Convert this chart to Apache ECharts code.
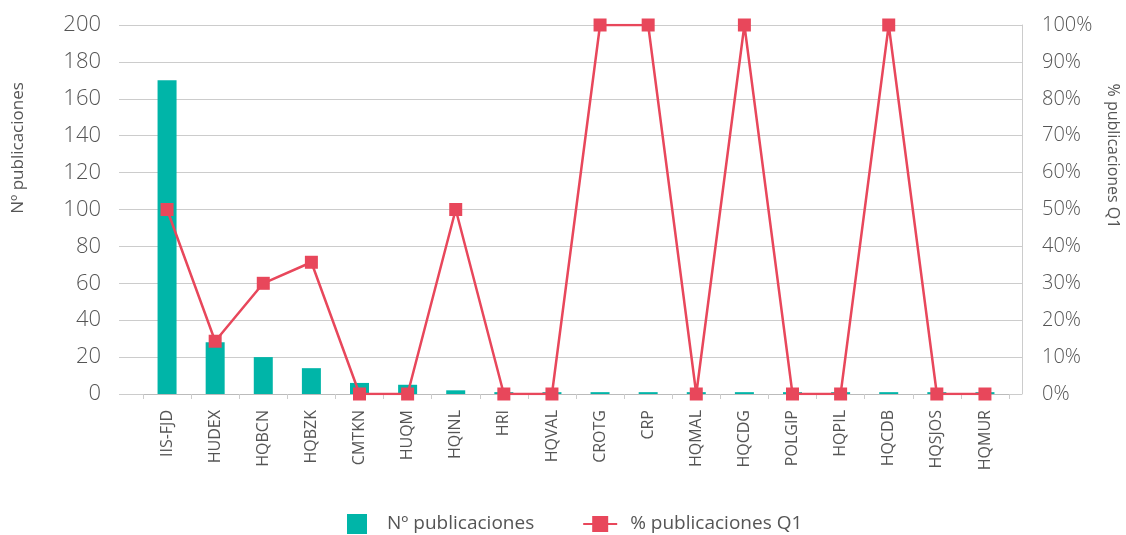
<!DOCTYPE html>
<html><head><meta charset="utf-8">
<script src="https://cdn.jsdelivr.net/npm/echarts@6/dist/echarts.min.js"></script>
<style>html,body{margin:0;padding:0;background:#fff}#c{width:1126px;height:535px}</style>
</head><body><div id="c"></div>
<script>
const categories = ['IIS-FJD','HUDEX','HQBCN','HQBZK','CMTKN','HUQM','HQINL','HRI','HQVAL','CROTG','CRP','HQMAL','HQCDG','POLGIP','HQPIL','HQCDB','HQSJOS','HQMUR'];
const publicaciones = [170, 28, 20, 14, 6, 5, 2, 1, 1, 1, 1, 1, 1, 1, 1, 1, 1, 1];
const pctQ1 = [50, 14.3, 30, 35.7, 0, 0, 50, 0, 0, 100, 100, 0, 100, 0, 0, 100, 0, 0];
const leftTicks = {min: 0, max: 200, interval: 20};
const rightTicks = {min: 0, max: 100, interval: 10};

const FONT = '"Open Sans", sans-serif';
const TXT = '#555';
const chart = echarts.init(document.getElementById('c'));
chart.setOption({
  animation: false,
  textStyle: {fontFamily: FONT},
  grid: {left: 143, right: 117, top: 25, bottom: 141},
  legend: {
    left: 342, top: 509, itemWidth: 34, itemHeight: 20, itemGap: 48,
    textStyle: {fontFamily: FONT, fontSize: 19, color: TXT, padding: [0, 0, 0, 8]},
    data: [
      {name: 'Nº publicaciones', icon: 'path://M0,0H1V1H0Z'},
      {name: '% publicaciones Q1'}
    ]
  },
  xAxis: {
    type: 'category', data: categories,
    axisLine: {lineStyle: {color: '#bbb'}},
    axisTick: {show: true, length: 5, lineStyle: {color: '#ccc'}},
    axisLabel: {rotate: 90, margin: 16, fontSize: 16, color: TXT, fontFamily: FONT, interval: 0}
  },
  yAxis: [
    {type: 'value', min: leftTicks.min, max: leftTicks.max, interval: leftTicks.interval,
     axisLine: {show: false},
     axisTick: {show: true, length: 24, lineStyle: {color: '#ccc'}},
     splitLine: {lineStyle: {color: '#ccc'}},
     axisLabel: {fontSize: 22, color: TXT, margin: 42, fontFamily: FONT, fontWeight: 300}},
    {type: 'value', min: rightTicks.min, max: rightTicks.max, interval: rightTicks.interval,
     position: 'right', offset: 13,
     axisLine: {show: true, lineStyle: {color: '#ccc'}},
     axisTick: {show: true, inside: true, length: 13, lineStyle: {color: '#ccc'}},
     splitLine: {show: false},
     axisLabel: {fontSize: 20, color: TXT, margin: 20, fontFamily: FONT, fontWeight: 300, formatter: '{value}%'}}
  ],
  graphic: [
    {type: 'text', x: 18, y: 148, rotation: Math.PI / 2,
     style: {text: 'Nº publicaciones', fill: TXT, font: '17px ' + FONT, align: 'center', verticalAlign: 'middle'}},
    {type: 'text', x: 1113, y: 156, rotation: -Math.PI / 2,
     style: {text: '% publicaciones Q1', fill: TXT, font: '16px ' + FONT, align: 'center', verticalAlign: 'middle'}}
  ],
  series: [
    {name: 'Nº publicaciones', type: 'bar', data: publicaciones, barWidth: 19,
     itemStyle: {color: '#00B5A8'}},
    {name: '% publicaciones Q1', type: 'line', yAxisIndex: 1, data: pctQ1,
     symbol: 'rect', symbolSize: 13,
     lineStyle: {color: '#E8475B', width: 2.5},
     itemStyle: {color: '#E8475B'}}
  ]
});
</script></body></html>
